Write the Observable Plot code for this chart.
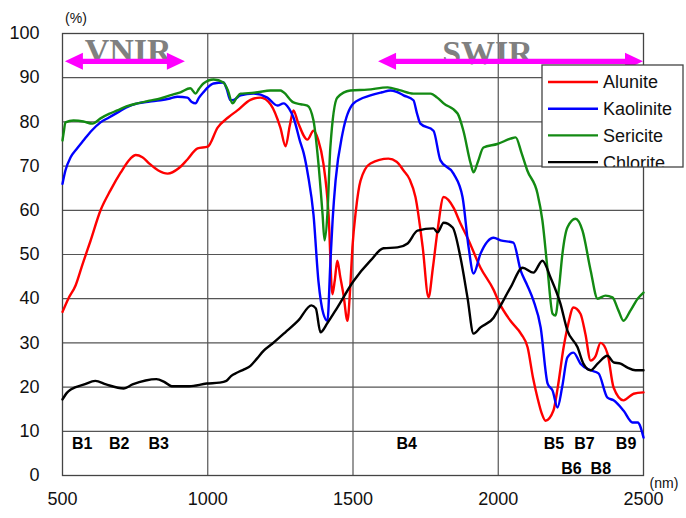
<!DOCTYPE html>
<html><head><meta charset="utf-8">
<script src="https://cdn.jsdelivr.net/npm/d3@7"></script>
<script src="https://cdn.jsdelivr.net/npm/@observablehq/plot@0.6"></script>
<style>body{margin:0;background:#fff}#chart{position:relative;width:686px;height:518px}</style>
</head><body><div id="chart"></div>
<script>
// ---- data (wavelength nm, reflectance %) ----
const alunite = [[500,37],[520,40],[545,43],[570,48],[596,53],[631,60],[665,64.5],[700,68.5],[734,71.7],[752,72.5],[775,72],[800,70.5],[830,69],[862,68.3],[900,69.5],[930,71.5],[965,74],[1000,74.4],[1034,78.7],[1070,81],[1102,82.6],[1147,85],[1182,85.5],[1216,84],[1250,78.7],[1268,74.5],[1282,79],[1295,82.6],[1310,80],[1343,76],[1364,78],[1380,76],[1398,70.6],[1416,59],[1429,41],[1437,44],[1446,48.6],[1456,45],[1467,41],[1481,35],[1490,42],[1498,51.6],[1510,60],[1526,66.7],[1560,70.6],[1622,71.7],[1650,71],[1674,69],[1695,67],[1715,63],[1740,51.6],[1760,40.3],[1775,47],[1791,55.4],[1812,63],[1846,60.6],[1870,57],[1894,53.8],[1939,47],[1984,42],[2004,39],[2042,35],[2079,32],[2101,29],[2120,22],[2135,17.6],[2150,14],[2163,12.4],[2190,14.7],[2205,20],[2225,29],[2240,34],[2259,38],[2283,36.6],[2300,32],[2318,26],[2335,27],[2352,30],[2376,27.6],[2397,19.9],[2431,17],[2466,18.5],[2500,18.8]];
const kaolinite = [[500,66],[510,69],[528,72],[550,74],[572,75.8],[600,78],[631,79.9],[660,81],[689,82.1],[720,83.3],[758,84.2],[800,84.6],[837,84.9],[870,85.3],[896,85.7],[930,85.5],[945,84.5],[958,84.2],[970,85.5],[985,86.7],[1000,87.8],[1020,88.7],[1054,88.9],[1065,87.5],[1078,84.9],[1090,85],[1113,86],[1157,86.4],[1205,85.5],[1240,83.7],[1261,84.2],[1280,83],[1295,81],[1319,75.3],[1330,73],[1345,68],[1364,59],[1381,44],[1398,36.6],[1412,35],[1422,48],[1430,58],[1440,66.7],[1464,77.4],[1502,84.2],[1560,86],[1600,86.7],[1629,87.1],[1650,86.8],[1674,86],[1708,84.9],[1720,82],[1732,79.6],[1777,78],[1801,71.3],[1846,68.3],[1877,63],[1898,51.6],[1915,45.7],[1939,50.2],[1984,53.8],[2008,53.2],[2052,52.7],[2077,46.4],[2100,43],[2121,39.6],[2146,33.5],[2170,20.8],[2187,19.2],[2204,15.4],[2220,20],[2238,26.7],[2259,27.8],[2283,25.3],[2318,23.8],[2345,23.1],[2376,17.6],[2397,17],[2431,14.7],[2462,12],[2480,12],[2500,8.6]];
const sericite = [[500,75.8],[505,78],[510,79.9],[538,80.3],[572,80.1],[603,79.6],[631,80.8],[660,81.8],[689,82.6],[720,83.5],[758,84.2],[800,84.8],[837,85.3],[870,86],[906,86.7],[940,87.6],[958,86.4],[970,87.5],[985,88.7],[1020,89.6],[1054,88.9],[1070,87],[1085,84.2],[1100,85.5],[1113,86.4],[1140,86.5],[1171,86.7],[1216,87.1],[1250,87.1],[1261,86.7],[1295,84.4],[1320,84],[1343,83.7],[1364,80.3],[1381,70.6],[1395,59.3],[1402,53.2],[1412,59.3],[1422,74.2],[1446,85.5],[1491,87.1],[1550,87.3],[1619,87.8],[1660,87.2],[1708,86.4],[1767,86.4],[1790,85.5],[1812,84.2],[1860,81.9],[1880,78],[1905,70.6],[1915,68.6],[1930,71],[1949,74.2],[1997,75],[2042,76.2],[2060,76.5],[2080,73],[2100,69],[2135,63.8],[2152,57.7],[2170,46.4],[2187,36.6],[2197,36.2],[2210,43],[2221,50.2],[2238,56.1],[2266,58.1],[2290,55.4],[2318,46.4],[2342,40],[2369,40.7],[2393,40.3],[2414,37.3],[2431,35],[2455,37.3],[2480,40],[2500,41.4]];
const chlorite = [[500,17.2],[515,18.7],[530,19.5],[575,20.6],[613,21.4],[650,20.6],[711,19.7],[741,20.6],[786,21.5],[823,21.8],[850,21.2],[876,20.2],[936,20.2],[996,20.8],[1040,21],[1064,21.4],[1080,22.5],[1102,23.3],[1125,24],[1147,24.8],[1170,26.5],[1192,28.2],[1222,29.8],[1267,32.4],[1312,35.1],[1357,38.5],[1372,37.8],[1388,32.4],[1412,34.5],[1446,38],[1502,44],[1560,48.6],[1605,51.4],[1653,51.6],[1688,52.5],[1722,55.4],[1777,55.9],[1791,55],[1812,57.2],[1843,56.1],[1870,49.3],[1894,40.3],[1915,32.1],[1939,33.5],[1984,35.7],[2000,37.5],[2042,42.5],[2084,47],[2121,45.9],[2152,48.6],[2180,44.8],[2214,38.9],[2238,32.8],[2273,29],[2293,25.3],[2318,23.8],[2342,25.3],[2376,27.1],[2397,25.6],[2421,25.3],[2445,24.4],[2472,23.8],[2500,23.8]];
const seriesNames = ["Alunite","Kaolinite","Sericite","Chlorite"];
const seriesColors = ["#ff0000","#0000ff","#138a13","#000000"];
const xTicks = [500,1000,1500,2000,2500];
const yTicks = [0,10,20,30,40,50,60,70,80,90,100];
const bandNames = ["B1","B2","B3","B4","B5","B7","B9","B6","B8"];
const bandNm    = [568,695,831,1685,2192,2297,2440,2252,2353];
const bandRow   = [1,1,1,1,1,1,1,2,2];
const regionNames = ["VNIR","SWIR"];
const regionStart = [510,1588];
const regionEnd   = [923,2500];

// ---- build ----
const rows = [];
[alunite,kaolinite,sericite,chlorite].forEach((s,i)=>s.forEach(([x,y])=>rows.push({name:seriesNames[i],x,y})));
const bands = bandNames.map((b,i)=>({b, x:bandNm[i], y: bandRow[i]===1 ? 7.2 : 1.5}));
const regions = regionNames.map((n,i)=>({n, x1:regionStart[i], x2:regionEnd[i]}));
const font = "'Liberation Sans', Arial, sans-serif";

const plot = Plot.plot({
  width:686, height:518,
  marginLeft:62, marginRight:43, marginTop:33, marginBottom:43,
  style:{fontFamily:font, fontSize:"18px", color:"#111", background:"#fff"},
  x:{domain:[500,2500]},
  y:{domain:[0,100]},
  color:{domain:seriesNames, range:seriesColors},
  marks:[
    Plot.gridY(yTicks.slice(1),{stroke:"#555", strokeOpacity:1, strokeWidth:1.2}),
    Plot.gridX([1000,1500,2000],{stroke:"#555", strokeOpacity:1, strokeWidth:1.2}),
    Plot.frame({stroke:"#444", strokeWidth:1.3}),
    Plot.axisX({ticks:xTicks, tickSize:0, tickPadding:17, label:null, fontSize:18, tickFormat:d=>String(d)}),
    Plot.axisY({ticks:yTicks, tickSize:0, tickPadding:23, label:null, fontSize:18}),
    Plot.text(regions,{x:d=>(d.n==="VNIR"?726:1963), y:d=>(d.n==="VNIR"?96.0:95.6), text:"n", fontFamily:"'Liberation Serif', 'Times New Roman', serif", fontWeight:"bold", fontSize:34, fill:"#808080"}),
    Plot.line(rows,{x:"x", y:"y", z:"name", stroke:"name", strokeWidth:2.4, curve:"monotone-x"}),
    Plot.text(bands,{x:"x", y:"y", text:"b", fontWeight:"bold", fontSize:16, fill:"#000"})
  ]
});

const container = document.getElementById("chart");
container.appendChild(plot);
const svg = d3.select(plot);
const sx = plot.scale("x"), sy = plot.scale("y");

// region arrows
const arrowY = 93.6;
regions.forEach(r=>{
  const a = sx.apply(r.x1), b = sx.apply(r.x2), y = sy.apply(arrowY);
  const hl = 18, hh = 8.5, t = 2.6;
  const p = [[a,y],[a+hl,y-hh],[a+hl,y-t],[b-hl,y-t],[b-hl,y-hh],[b,y],[b-hl,y+hh],[b-hl,y+t],[a+hl,y+t],[a+hl,y+hh]];
  svg.append("path").attr("d","M"+p.map(q=>q.join(",")).join("L")+"Z").attr("fill","#ff00ff");
});

// unit labels
svg.append("text").attr("x",76).attr("y",23).attr("text-anchor","middle").attr("font-size",14).attr("font-family",font).attr("fill","#111").text("(%)");
svg.append("text").attr("x",664).attr("y",488).attr("text-anchor","middle").attr("font-size",14).attr("font-family",font).attr("fill","#111").text("(nm)");

// legend
const lx=542, ly=65, lw=141, lh=102;
svg.append("clipPath").attr("id","lgclip").append("rect").attr("x",lx).attr("y",ly).attr("width",lw).attr("height",lh);
const lg = svg.append("g");
lg.append("rect").attr("x",lx).attr("y",ly).attr("width",lw).attr("height",lh).attr("fill","#fff");
const lgi = lg.append("g").attr("clip-path","url(#lgclip)");
seriesNames.forEach((n,i)=>{
  const yy = 82 + i*26.7;
  lgi.append("line").attr("x1",548).attr("x2",598).attr("y1",yy).attr("y2",yy).attr("stroke",seriesColors[i]).attr("stroke-width",2.4);
  lgi.append("text").attr("x",603).attr("y",yy).attr("dy","0.36em").attr("text-anchor","start").attr("font-size",18).attr("font-family",font).attr("fill","#111").text(n);
});
lg.append("rect").attr("x",lx).attr("y",ly).attr("width",lw).attr("height",lh).attr("fill","none").attr("stroke","#444").attr("stroke-width",1.3);
</script></body></html>
